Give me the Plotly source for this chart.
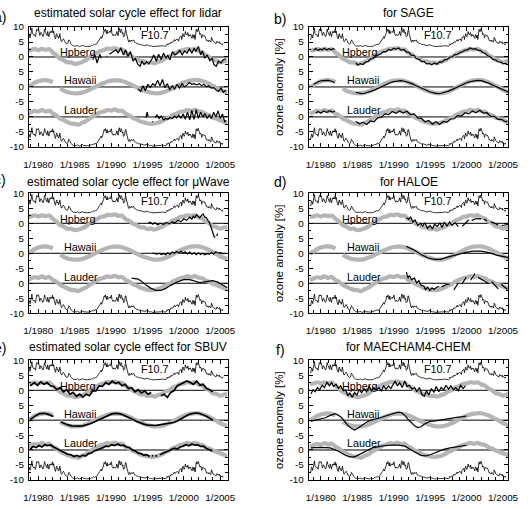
import numpy as np
import plotly.graph_objects as go

GAP = (None, None)

# ---------------- data ----------------
# F10.7 solar flux, monthly means (sfu), starting July 1978
F107_START = 1978 + 6.5 / 12
F107 = [137, 135, 180, 176, 150, 200,
        225, 240, 190, 180, 175, 182, 170, 160, 200, 232, 222, 232,
        232, 205, 172, 188, 202, 190, 182, 162, 170, 200, 232, 205,
        200, 180, 170, 210, 170, 162, 190, 210, 198, 212, 200, 230,
        196, 212, 170, 160, 140, 178, 190, 160, 168, 145, 156, 190,
        140, 124, 114, 122, 140, 142, 130, 125, 104, 100, 90, 92,
        96, 112, 132, 122, 116, 96, 90, 86, 76, 76, 75, 75,
        76, 73, 72, 75, 80, 73, 72, 70, 70, 72, 74, 76,
        74, 82, 75, 74, 70, 70, 70, 70, 70, 72, 72, 73,
        72, 73, 72, 80, 85, 80, 84, 90, 85, 95, 92, 90,
        97, 105, 110, 125, 130, 140, 150, 162, 145, 160, 172, 192,
        222, 212, 232, 200, 190, 222, 190, 200, 210, 212, 200, 212,
        230, 190, 180, 170, 182, 176, 170, 180, 182, 210, 175, 170,
        220, 240, 210, 200, 232, 220, 190, 200, 160, 172, 170, 222,
        222, 190, 150, 150, 120, 110, 130, 120, 115, 130, 120, 125,
        130, 130, 110, 110, 105, 100, 100, 100, 95, 90, 92, 88,
        90, 88, 85, 85, 80, 80, 78, 80, 76, 86, 82, 83,
        85, 80, 80, 75, 75, 78, 75, 70, 70, 75, 75, 75,
        72, 70, 70, 70, 70, 70, 72, 72, 70, 70, 75, 78,
        75, 72, 75, 75, 75, 75, 72, 80, 95, 85, 95, 100,
        93, 95, 110, 105, 115, 110, 115, 135, 135, 120, 130, 140,
        140, 140, 125, 120, 150, 165, 165, 170, 135, 165, 190, 170,
        160, 175, 210, 185, 185, 180, 200, 165, 180, 170, 180, 170,
        165, 145, 180, 180, 150, 175, 135, 165, 230, 210, 210, 235,
        225, 205, 180, 190, 180, 150, 175, 180, 175, 165, 170, 155,
        145, 125, 130, 125, 115, 130, 125, 120, 110, 155, 140, 115,
        115, 110, 110, 100, 100, 100, 120, 110, 105, 105, 115, 95,
        100, 95, 90, 85, 100]

# Reference (grey) solar-cycle regression curves, half-yearly from 1978.5 (%)
REF_START = 1978.5
REF_HPB = [2.2, 2.3, 2.7, 2.3, 2.7, 2.4, 2.6, 1.5, 0.6, -0.6, -1.1, -1.8, -1.8, -2.3,
           -2.1, -1.7, -1.1, -0.2, 0.7, 1.3, 2.0, 2.3, 2.8, 2.7, 3.0, 2.5, 2.5, 1.4,
           0.8, -0.1, -0.6, -1.3, -1.4, -1.9, -1.8, -2.1, -1.6, -1.2, -0.4, 0.1, 1.0,
           1.4, 2.1, 2.3, 2.7, 2.5, 2.7, 2.0, 1.6, 0.6, 0.0, -1.0, -1.2, -1.8, -1.4, -1.4]
REF_HAW = [-0.1, 0.6, 1.4, 1.9, 2.2, 2.3, 2.1, 1.6, None, -0.5, -1.2, -1.7, -2.0, -2.1,
           -2.1, -1.9, -1.5, -1.0, -0.4, 0.2, 0.8, 1.3, 1.8, 2.1, 2.2, 2.2, 2.0, 1.6,
           1.1, 0.5, -0.1, -0.7, -1.2, -1.6, -1.9, -2.1, -2.1, -1.9, -1.5, -1.0, -0.4,
           0.3, 0.9, 1.5, 1.9, 2.2, 2.3, 2.3, 2.0, 1.6, 1.0, 0.4, -0.3, -1.0, -1.5, -1.8]
REF_LAU = [1.0, 1.6, 2.0, 1.8, 2.3, 1.8, 2.1, 1.1, 0.5, -0.5, -1.1, -1.7, -2.2, -2.3,
           -2.6, -2.0, -1.5, -0.6, 0.1, 0.9, 1.5, 1.8, 2.3, 2.1, 2.5, 2.0, 2.1, 1.1,
           0.5, -0.3, -0.8, -1.5, -1.8, -2.2, -2.3, -2.2, -1.9, -1.4, -0.7, -0.2, 0.6,
           1.1, 1.7, 1.9, 2.4, 2.0, 2.4, 1.9, 1.7, 0.9, 0.5, -0.2, -0.6, -1.1, -1.6, -2.1]

# Instrument / model estimates: (decimal year, % anomaly)
LIDAR_HPB = [(1987.47, -0.9), (1987.78, 0.7), (1988.09, -2.0), (1988.44, 0.9), (1988.67, -0.4), GAP,
             (1989.40, 0.2), (1989.52, 0.2), GAP,
             (1989.78, 0.9), (1990.22, 1.8), (1990.67, 2.4), (1990.98, 1.3), (1991.33, 3.1), (1991.69, 0.7),
             (1992.00, 2.4), (1992.31, 0.2), (1992.67, 1.8), (1993.02, -1.4), (1993.33, -0.4), (1993.64, -2.3),
             (1994.00, -3.1), (1994.22, -1.4), (1994.53, -2.5), (1994.89, -1.6), (1995.20, -2.3), (1995.56, -0.9),
             (1995.87, 0.7), (1996.22, -1.4), (1996.53, 0.9), (1996.89, -0.9), (1997.20, 1.3), (1997.56, -0.4),
             (1997.78, 0.7), (1998.09, -0.9), (1998.44, 1.8), (1998.76, 0.7), (1999.11, 1.3), (1999.42, 2.2),
             (1999.78, 0.7), (2000.09, 2.0), (2000.44, 1.3), (2000.76, 2.7), (2001.11, 1.3), (2001.42, 2.9),
             (2001.64, 1.8), (2002.00, 3.5), (2002.31, 0.7), (2002.53, 2.0), (2002.89, -0.4), (2003.20, 0.7),
             (2003.56, -1.2), (2003.87, -0.4), (2004.13, -2.5), (2004.44, -3.1), (2004.76, -1.4), (2005.11, -2.0),
             (2005.42, -0.9), (2005.78, -0.6)]
LIDAR_HAW = [(1993.72, -0.7), (1994.08, -1.5), (1994.39, 0.4), (1994.70, -1.25), (1995.06, 0.9), (1995.38, -0.2),
             (1995.74, 1.1), (1996.05, 0.4), (1996.40, 2.2), (1996.72, 0.4), (1997.07, 2.5), (1997.38, -0.2),
             (1997.74, 1.1), (1998.05, -1.0), (1998.41, 0.4), (1998.72, -0.7), (1999.08, 0.9), (1999.40, -0.4),
             (1999.75, 1.1), (2000.06, 0.05), (2000.42, 0.6), (2000.73, 1.5), (2001.09, 0.9), (2001.40, 1.1),
             (2001.76, 0.7), (2002.12, 1.1), (2002.43, 0.4), (2002.74, 0.9), (2003.10, 0.05), (2003.41, 0.4),
             (2003.77, -0.4), (2004.08, -0.2), (2004.44, -1.0), (2004.75, -1.5), (2005.11, -0.4), (2005.42, -1.8),
             (2005.78, -1.0)]
LIDAR_LAU = [(1994.80, -0.3), (1994.95, 1.6), (1995.10, 0.2), GAP, (1995.65, -1.5), (1995.75, -1.7), GAP,
             (1996.05, -0.2), (1996.30, 0.6), (1996.60, -0.5), (1996.90, 0.3), (1997.20, -1.0), (1997.50, -0.5),
             (1997.80, -0.8), (1998.10, -0.2), (1998.40, -0.6), (1998.70, 0.3), (1999.00, -0.3), (1999.30, 0.6),
             (1999.60, -0.4), (1999.90, 1.0), (2000.20, -0.8), (2000.50, 1.6), (2000.80, -1.0), (2001.10, 2.2),
             (2001.40, -0.8), (2001.70, 2.4), (2002.00, -0.5), (2002.30, 1.6), (2002.60, 0.0), (2002.90, 1.1),
             (2003.20, -0.5), (2003.50, 0.6), (2003.80, -0.5), (2004.10, 1.6), (2004.40, 0.0), (2004.70, 2.0),
             (2005.00, -0.5), (2005.30, 1.0), (2005.60, -1.6), (2005.80, -1.2)]

SAGE_HPB = [(1979.0, 2.2), (1979.3, 2.8), (1979.6, 2.2), (1979.9, 2.7), (1980.2, 2.4), (1980.5, 2.9), (1980.8, 2.3),
            (1981.1, 2.8), (1981.4, 2.4), (1981.7, 2.8), (1981.9, 2.5), GAP,
            (1984.8, -2.0), (1985.1, -2.7), (1985.4, -2.2), (1985.8, -2.5), (1986.1, -1.7), (1986.5, -1.5),
            (1986.8, -0.7), (1987.2, -0.5), (1987.5, 0.3), (1987.9, 0.8), (1988.2, 1.0), (1988.6, 1.8),
            (1988.9, 1.7), (1989.3, 2.5), (1989.6, 2.2), (1990.0, 2.9), (1990.3, 2.6), (1990.7, 3.0),
            (1991.0, 2.3), (1991.4, 2.5), (1991.7, 1.7), (1992.1, 1.5), (1992.4, 0.6), (1992.8, 0.5),
            (1993.1, -0.5), (1993.5, -0.8), (1993.8, -1.5), (1994.2, -1.5), (1994.5, -2.3), (1994.9, -2.2),
            (1995.2, -2.6), (1995.6, -2.0), (1995.9, -2.4), (1996.3, -1.6), (1996.6, -1.7), (1997.0, -0.9),
            (1997.3, -0.9), (1997.7, 0.0), (1998.0, 0.0), (1998.4, 0.8), (1998.7, 0.9), (1999.1, 1.5),
            (1999.4, 1.7), (1999.8, 2.3), (2000.1, 2.4), (2000.5, 3.0), (2000.8, 2.6), (2001.2, 2.8),
            (2001.5, 2.3), (2001.9, 2.2), (2002.2, 1.5), (2002.6, 1.2), (2002.9, 0.4), (2003.3, 0.0),
            (2003.6, -0.8), (2004.0, -1.0), (2004.3, -1.6), (2004.7, -1.7), (2005.0, -2.2), (2005.4, -2.2),
            (2005.7, -2.6)]
SAGE_HAW = [(1979.0, 0.9), (1979.4, 1.5), (1979.8, 1.9), (1980.2, 2.1), (1980.6, 2.2), (1981.0, 2.2),
            (1981.4, 2.0), (1981.9, 1.5), GAP,
            (1984.8, -1.8), (1985.2, -2.1), (1985.6, -2.2), (1986.0, -2.1), (1986.5, -1.8), (1987.0, -1.4),
            (1987.5, -0.9), (1988.0, -0.3), (1988.5, 0.3), (1989.0, 0.9), (1989.5, 1.4), (1990.0, 1.8),
            (1990.5, 2.0), (1991.0, 2.1), (1991.5, 1.9), (1992.0, 1.6), (1992.5, 1.1), (1993.0, 0.5),
            (1993.5, -0.1), (1994.0, -0.7), (1994.5, -1.2), (1995.0, -1.7), (1995.5, -2.0), (1996.0, -2.2),
            (1996.5, -2.1), (1997.0, -1.8), (1997.5, -1.4), (1998.0, -0.9), (1998.5, -0.3), (1999.0, 0.3),
            (1999.5, 0.9), (2000.0, 1.4), (2000.5, 1.8), (2001.0, 2.1), (2001.5, 2.2), (2002.0, 2.1),
            (2002.5, 1.8), (2003.0, 1.3), (2003.5, 0.7), (2004.0, 0.1), (2004.5, -0.5), (2005.0, -1.1),
            (2005.5, -1.5), (2005.7, -1.7)]
SAGE_LAU = [(1979.3, 1.2), (1979.6, 1.8), (1980.0, 1.3), (1980.4, 2.0), (1980.8, 1.5), (1981.2, 2.1),
            (1981.6, 1.6), (1981.9, 1.9), GAP,
            (1984.8, -1.5), (1985.3, -2.3), (1985.8, -1.8), (1986.3, -2.5), (1986.8, -1.3), (1987.3, -1.6),
            (1987.8, -0.3), (1988.3, -0.2), (1988.8, 1.0), (1989.3, 0.8), (1989.8, 1.8), (1990.3, 1.2),
            (1990.8, 2.0), (1991.3, 1.3), (1991.8, 1.9), (1992.3, 0.8), (1992.8, 1.0), (1993.3, -0.3),
            (1993.8, -0.5), (1994.3, -1.7), (1994.8, -1.2), (1995.3, -2.4), (1995.8, -1.6), (1996.3, -2.5),
            (1996.8, -1.5), (1997.3, -1.8), (1997.8, -0.7), (1998.3, -0.6), (1998.8, 0.5), (1999.3, 0.3),
            (1999.8, 1.4), (2000.3, 1.0), (2000.8, 2.0), (2001.3, 1.4), (2001.8, 2.2), (2002.3, 1.3),
            (2002.8, 1.4), (2003.3, 0.2), (2003.8, 0.2), (2004.3, -0.8), (2004.8, -0.8), (2005.3, -1.6),
            (2005.6, -1.5)]

MW_HPB = [(1995.1, 0.0), (1995.4, 0.4), (1995.7, -0.3), (1996.0, 0.2), (1996.4, -0.5), (1996.8, 0.0),
          (1997.2, -0.3), (1997.6, 0.3), (1998.0, -0.2), (1998.4, 0.5), (1998.8, 0.2), (1999.2, 1.0),
          (1999.6, 0.5), (2000.0, 1.5), (2000.4, 1.0), (2000.8, 2.1), (2001.1, 1.4), (2001.3, 2.4),
          (2001.5, 1.8), (2001.74, 2.9), (2002.0, 2.2), (2002.18, 1.85), (2002.4, 2.6), (2002.63, 3.15),
          (2002.85, 2.2), (2003.08, 1.85), (2003.3, 1.0), (2003.52, 0.2), (2003.75, -1.4), (2003.97, -3.6),
          (2004.15, -4.4), (2004.33, -4.7), GAP, (2004.5, -4.2), (2004.65, -3.4)]
MW_HAW = [(1995.7, 0.1), (1996.0, 0.0), (1996.3, -0.3), (1996.6, 0.0), (1996.9, -0.4), (1997.2, -0.1),
          (1997.5, -0.5), (1997.8, 0.2), (1998.1, -0.3), (1998.4, 0.4), (1998.7, 0.0), (1999.0, 0.6),
          (1999.3, 0.1), (1999.6, 0.7), (1999.9, 0.0), (2000.2, 0.5), (2000.5, -0.2), (2000.8, 0.4),
          (2001.1, -0.3), (2001.4, 0.2), (2001.7, -0.5), (2002.0, 0.2), (2002.3, -0.4), (2002.6, 0.0),
          (2002.9, -0.5), (2003.2, -0.1), (2003.5, -0.3), (2003.8, 0.3), (2004.1, -0.2), (2004.4, 0.5),
          (2004.7, 0.1), (2005.0, 0.2), (2005.3, -0.1), (2005.7, 0.0)]
MW_LAU = [(1992.83, 1.7), (1993.72, 1.4), (1994.17, 0.7), (1994.84, -0.7), (1995.51, -1.7), (1996.18, -2.4),
          (1996.85, -2.4), (1997.52, -1.7), (1998.19, -0.7), (1999.08, 0.4), (1999.97, 1.2), (2000.64, 1.3),
          (2001.31, 0.9), (2001.98, 0.3), (2002.65, 0.4), (2003.32, 0.7), (2003.99, 0.9), (2004.66, 0.4),
          (2005.33, -0.7), (2006.0, -1.5)]

HALOE_HPB = [(1991.74, 1.9), (1992.06, 1.3), (1992.32, 2.2), (1992.63, 0.4), (1992.94, 1.1), (1993.30, -0.7),
             (1993.66, 0.0), (1993.97, -0.9), (1994.28, 0.2), (1994.63, -1.7), (1994.99, -0.7), (1995.30, -1.9),
             (1995.61, -0.3), (1995.97, -1.1), (1996.32, 0.2), (1996.63, -1.4), (1996.94, 0.4), (1997.30, -0.9),
             (1997.66, 0.4), (1997.97, -0.7), (1998.41, 0.2), (1998.86, -1.1), GAP,
             (1999.4, -1.0), (2000.3, 1.2), GAP, (2000.7, 1.0), (2001.3, 1.6), (2002.0, 1.5), GAP,
             (2002.4, 1.4), (2002.8, 0.8), GAP, (2003.3, 0.5), (2003.9, 0.0), (2004.3, -0.6), GAP,
             (2004.8, -0.8), (2005.3, -0.5), (2005.7, -0.3)]
HALOE_HAW = [(1991.74, 2.3), (1992.86, 1.0), (1993.74, -0.4), (1994.63, -1.5), (1995.52, -2.0), (1996.41, -2.0),
             (1997.52, -1.2), (1998.63, -0.4), (1999.74, 0.2), (2000.86, 0.7), (2001.97, 0.7), (2003.08, 0.2),
             (2004.19, -0.7), (2005.30, -1.2), (2005.74, -1.4)]
HALOE_LAU = [(1991.74, 3.7), (1991.95, 1.7), (1992.15, 2.6), (1992.45, 1.2), (1992.85, 1.7), (1993.15, 0.1),
             (1993.45, 0.9), (1993.75, -0.7), (1994.15, -1.0), (1994.35, -2.1), (1994.65, -1.3), (1994.95, -2.4),
             (1995.25, -1.5), (1995.55, -2.1), (1995.85, -1.4), (1996.25, -1.0), GAP,
             (1996.55, -1.2), (1997.15, -0.5), (1997.65, -0.3), GAP, (1998.25, -2.2), (1998.85, 0.0), GAP,
             (1999.35, -0.3), (1999.95, 2.0), GAP, (2000.55, 1.0), (2001.15, 3.2), GAP,
             (2001.55, 2.0), (2002.15, 1.0), (2002.65, 0.3), (2003.05, -0.2), GAP,
             (2003.45, 0.5), (2003.95, -1.0), (2004.35, -1.9), GAP, (2004.75, -0.4), (2005.25, -1.2), (2005.6, -2.0)]

SBUV_HPB = [(1978.90, 1.5), (1979.44, 2.6), (1979.88, 1.7), (1980.33, 2.8), (1980.78, 2.0), (1981.22, 2.6),
            (1981.67, 1.5), (1982.12, 1.3), (1982.56, 0.2), (1983.01, 0.9), (1983.46, -0.5), (1983.90, 0.2),
            (1984.35, -1.3), (1984.79, -0.7), (1985.24, -2.0), (1985.69, -1.3), (1986.13, -2.3), (1986.58, -1.3),
            (1987.03, -1.8), (1987.47, -0.2), (1987.92, -0.2), (1988.37, 1.5), (1988.81, 1.3), (1989.26, 2.6),
            (1989.71, 2.0), (1990.15, 3.1), (1990.60, 2.3), (1991.04, 2.7), (1991.49, 1.5), (1991.94, 2.0),
            (1992.38, 0.6), (1992.83, 0.9), (1993.28, -0.5), (1993.72, 0.2), (1994.17, -0.9), (1994.62, -0.2),
            (1995.06, -1.3), (1995.51, -0.7), GAP,
            (1996.85, -1.8), (1997.29, -1.3), (1997.74, -2.4), (1998.19, -0.7), (1998.63, -0.2), (1999.08, 1.5),
            (1999.53, 2.0), (1999.97, 2.6), (2000.42, 3.1), (2000.87, 2.6), (2001.31, 2.0), (2001.76, 3.1),
            (2002.21, 1.7), (2002.65, 2.0), (2003.10, 0.6), (2003.54, 0.2), (2003.99, -0.5)]
SBUV_HAW = [(1978.9, 0.2), (1979.3, 1.0), (1979.7, 1.6), (1980.2, 2.2), (1980.8, 2.3), (1981.3, 2.0), (1981.7, 1.6),
            (1982.1, 1.2), GAP,
            (1983.1, -0.6), (1983.6, -1.2), (1984.1, -1.6), (1984.6, -1.9), (1985.1, -2.0), (1985.6, -2.0),
            (1986.1, -1.9), (1986.6, -1.6), (1987.1, -1.2), (1987.6, -0.7), (1988.1, -0.1), (1988.6, 0.5),
            (1989.1, 1.1), (1989.6, 1.7), (1990.1, 2.1), (1990.6, 2.3), (1991.1, 2.2), (1991.6, 1.8),
            (1992.1, 1.3), (1992.6, 0.7), (1993.1, 0.1), (1993.6, -0.5), (1994.1, -1.0), (1994.6, -1.4),
            (1995.1, -1.7), (1995.6, -1.8), (1996.1, -1.8), (1996.6, -1.6), (1997.1, -1.4), (1997.6, -1.2),
            (1998.1, -1.1), (1998.6, -0.8), (1999.1, -0.3), (1999.6, 0.4), (2000.1, 1.2), (2000.6, 1.8),
            (2001.1, 2.2), (2001.6, 2.4), (2002.1, 2.3), (2002.6, 1.9), (2003.1, 1.3), (2003.6, 0.6),
            (2004.0, -0.1)]
SBUV_LAU = [(1978.9, 0.3), (1979.3, 1.2), (1979.7, 0.8), (1980.1, 1.5), (1980.5, 1.0), (1980.9, 1.8), (1981.3, 1.5),
            (1981.7, 1.7), (1982.1, 1.0), (1982.5, 0.5), (1982.9, 0.0), (1983.3, -0.5), (1983.7, -1.0),
            (1984.1, -1.5), (1984.5, -1.6), (1984.9, -2.2), (1985.3, -1.8), (1985.7, -2.3), (1986.1, -1.7),
            (1986.5, -2.0), (1986.9, -1.2), (1987.3, -1.0), (1987.7, -0.3), (1988.1, 0.0), (1988.5, 0.5),
            (1988.9, 0.8), (1989.3, 1.3), (1989.7, 1.2), (1990.1, 1.8), (1990.5, 1.5), (1990.9, 2.0),
            (1991.3, 1.5), (1991.7, 1.6), (1992.1, 1.0), (1992.5, 0.8), (1992.9, 0.0), (1993.3, -0.3),
            (1993.7, -1.0), (1994.1, -1.2), (1994.5, -1.8), (1994.9, -1.6), (1995.3, -2.2), GAP,
            (1995.6, -1.9), (1995.8, -2.0), GAP, (1996.1, -2.1), (1996.3, -1.9), GAP,
            (1996.7, -1.6), (1997.1, -1.2), (1997.5, -0.6), (1997.9, -0.2), (1998.3, 0.1), (1998.7, 0.6),
            (1999.1, 0.3), (1999.5, 1.0), (1999.9, 1.3), (2000.3, 1.8), (2000.7, 1.4), (2001.1, 2.0),
            (2001.5, 1.6), (2001.9, 1.8), (2002.3, 1.2), (2002.7, 1.3), (2003.1, 0.5), (2003.5, 0.2),
            (2003.9, -0.3)]

MAE_HPB = [(1978.63, -1.26), (1978.94, 0.16), (1979.21, -0.49), (1979.52, 0.93), (1979.83, 0.16), (1980.19, 1.69),
           (1980.50, 0.93), (1980.86, 2.79), (1981.17, 1.48), (1981.48, 2.57), (1981.74, 1.26), (1982.10, 2.02),
           (1982.41, 0.60), (1982.72, 1.48), (1983.08, -0.16), (1983.39, 0.16), (1983.70, -1.80), (1983.97, -0.93),
           (1984.32, -2.35), (1984.63, -0.71), (1984.94, -1.58), (1985.30, 0.38), (1985.61, -0.93), (1985.92, 0.60),
           (1986.28, -0.49), (1986.63, 1.48), (1986.94, -0.16), (1987.26, 0.93), (1987.61, 0.16), (1987.97, 0.93),
           (1988.28, -0.16), (1988.63, 1.48), (1988.94, 0.38), (1989.30, 1.48), (1989.61, 0.60), (1989.92, 2.02),
           (1990.19, 3.11), (1990.50, 1.48), (1990.81, 2.57), (1991.17, 0.93), (1991.52, 3.11), (1991.83, 1.26),
           (1992.14, 1.69), (1992.50, 0.38), (1992.86, 0.93), (1993.17, -0.49), (1993.52, 0.93), (1993.83, -1.26),
           (1994.19, -2.02), (1994.50, -0.16), (1994.81, -1.58), (1995.17, 0.60), (1995.52, -0.71), (1995.83, 1.26),
           (1996.19, -0.49), (1996.50, 0.93), (1996.86, 0.16), (1997.17, 1.69), (1997.52, 0.38), (1997.83, 1.48),
           (1998.19, 0.16), (1998.50, 0.93), (1998.86, -0.16), (1999.17, 1.69), (1999.52, 0.60), (1999.83, 1.48)]
MAE_HAW = [(1978.63, -0.3), (1979.30, 0.0), (1979.97, 0.3), (1980.63, 0.8), (1981.30, 1.6), (1981.97, 2.2),
           (1982.41, 1.6), (1982.86, 0.8), (1983.30, -0.5), (1983.74, -1.9), (1984.19, -2.7), (1984.63, -3.3),
           (1985.08, -2.7), (1985.52, -1.9), (1986.19, -0.8), (1986.86, 0.0), (1987.52, 0.3), (1988.19, 0.8),
           (1988.86, 1.4), (1989.52, 1.8), (1990.19, 2.2), (1990.63, 2.7), (1991.08, 2.5), (1991.52, 1.6),
           (1991.97, 0.3), (1992.41, -0.8), (1992.86, -1.9), (1993.30, -2.5), (1993.74, -2.2), (1994.19, -1.4),
           (1994.86, -0.5), (1995.52, -0.3), (1996.19, 0.0), (1996.86, 0.3), (1997.52, 0.5), (1998.19, 0.8),
           (1998.86, 1.0), (1999.52, 1.2), (1999.97, 1.4)]
MAE_LAU = [(1978.63, 0.7), (1979.97, 0.9), (1981.30, 0.7), (1982.41, -0.4), (1983.30, -1.7), (1983.97, -2.3),
           (1984.63, -2.3), (1985.30, -1.5), (1986.19, -0.2), (1987.08, 0.7), (1987.97, 1.1), (1988.86, 1.5),
           (1989.74, 1.6), (1990.63, 1.6), (1991.52, 1.3), (1992.41, 0.2), (1993.08, -0.9), (1993.74, -1.8),
           (1994.41, -2.0), (1995.08, -1.5), (1995.97, -0.6), (1996.86, 0.2), (1997.74, 0.7), (1998.63, 1.1),
           (1999.52, 1.5), (1999.97, 1.6)]

TITLES = ["estimated solar cycle effect for lidar", "for SAGE",
          "estimated solar cycle effect for \u03bcWave", "for HALOE",
          "estimated solar cycle effect for SBUV", "for MAECHAM4-CHEM"]
PANEL_LABELS = ["a)", "b)", "c)", "d)", "e)", "f)"]
STATIONS = ["Hpberg", "Hawaii", "Lauder"]
OFFSETS = [10, 0, -10]
BLACK = [(LIDAR_HPB, LIDAR_HAW, LIDAR_LAU), (SAGE_HPB, SAGE_HAW, SAGE_LAU),
         (MW_HPB, MW_HAW, MW_LAU), (HALOE_HPB, HALOE_HAW, HALOE_LAU),
         (SBUV_HPB, SBUV_HAW, SBUV_LAU), (MAE_HPB, MAE_HAW, MAE_LAU)]
XTICK_YEARS = [1980, 1985, 1990, 1995, 2000, 2005]
XTICK_TEXT = ["1/%d" % y for y in XTICK_YEARS]
YTICK_VALS = [-20, -15, -10, -5, 0, 5, 10, 15, 20]
YTICK_TEXT = ["-10", "-5", "0", "-5", "0", "5", "0", "5", "10"]

# ---------------- figure ----------------
W, H = 531, 509
FONT = "Liberation Sans, Arial, Helvetica, sans-serif"
GREY = "#b5b5b5"

f_t = F107_START + np.arange(len(F107)) / 12.0
f_arr = np.array(F107, dtype=float)
f_top = 13.5 + (f_arr - 70.0) * 0.0359
f_bot = f_top - 33.2
ref_t = REF_START + 0.5 * np.arange(len(REF_HPB))
REFS = [REF_HPB, REF_HAW, REF_LAU]

COL_X = [(24.5, 229.0), (312.5, 518.0)]
ROW_Y = [(21.5, 144.0), (191.5, 314.0), (362.3, 484.3)]
XR = [[1978.7, 2006.0], [1978.33, 2005.73]]


def split(pairs, off):
    t = [p[0] for p in pairs]
    v = [None if p[1] is None else p[1] + off for p in pairs]
    return t, v


fig = go.Figure()
layout = dict(width=W, height=H, margin=dict(l=0, r=0, t=0, b=0),
              paper_bgcolor="white", plot_bgcolor="white", showlegend=False,
              font=dict(family=FONT, color="black"))
shapes, annotations = [], []

for i in range(6):
    row, col = i // 2, i % 2
    n = i + 1
    xa, ya = ("x%d" % n if n > 1 else "x"), ("y%d" % n if n > 1 else "y")
    x0, x1 = COL_X[col]
    yt, yb = ROW_Y[row]
    layout["xaxis%d" % n if n > 1 else "xaxis"] = dict(
        domain=[x0 / W, x1 / W], range=XR[col], anchor=ya,
        tickmode="array", tickvals=XTICK_YEARS, ticktext=XTICK_TEXT,
        ticks="inside", ticklen=4, tickcolor="black", tickwidth=1,
        minor=dict(tickmode="linear", tick0=1980, dtick=1, ticks="inside", ticklen=3,
                   tickcolor="black", tickwidth=1, showgrid=False),
        showline=True, linecolor="black", linewidth=1, mirror="allticks",
        showgrid=False, zeroline=False, tickfont=dict(size=9.8, family=FONT),
        ticklabelstandoff=8)
    layout["yaxis%d" % n if n > 1 else "yaxis"] = dict(
        domain=[1 - yb / H, 1 - yt / H], range=[-20, 20], anchor=xa,
        tickmode="array", tickvals=YTICK_VALS, ticktext=YTICK_TEXT,
        ticks="inside", ticklen=4, tickcolor="black", tickwidth=1,
        minor=dict(tickmode="linear", tick0=0, dtick=2.5, ticks="inside", ticklen=2.5,
                   tickcolor="black", tickwidth=1, showgrid=False),
        showline=True, linecolor="black", linewidth=1, mirror="allticks",
        showgrid=False, zeroline=False, tickfont=dict(size=9.8, family=FONT),
        ticklabelstandoff=2)

    # grey reference curves
    for ref, off in zip(REFS, OFFSETS):
        fig.add_trace(go.Scatter(x=ref_t, y=[None if v is None else v + off for v in ref],
                                 mode="lines", line=dict(color=GREY, width=4.2, shape="spline", smoothing=1.0),
                                 connectgaps=False, xaxis=xa, yaxis=ya, hoverinfo="skip"))
    # F10.7 (top and bottom copies)
    for fy in (f_top, f_bot):
        fig.add_trace(go.Scatter(x=f_t, y=fy, mode="lines", line=dict(color="black", width=0.8),
                                 xaxis=xa, yaxis=ya, hoverinfo="skip"))
    # black estimates
    lw = 1.7 if i == 4 else 1.2
    for pairs, off in zip(BLACK[i], OFFSETS):
        t, v = split(pairs, off)
        fig.add_trace(go.Scatter(x=t, y=v, mode="lines", line=dict(color="black", width=lw),
                                 connectgaps=False, xaxis=xa, yaxis=ya, hoverinfo="skip"))
    # zero lines
    for off in OFFSETS:
        shapes.append(dict(type="line", xref="%s domain" % xa, yref=ya, x0=0, x1=1, y0=off, y1=off,
                           line=dict(color="black", width=1), layer="below"))
    # in-panel labels
    annotations.append(dict(x=1996.1, y=17.3, xref=xa, yref=ya, text="F10.7", showarrow=False,
                            font=dict(size=10.8, family=FONT)))
    for name, xv, yv in zip(STATIONS, [1985.35, 1985.75, 1985.9], [11.6, 2.2, -7.8]):
        annotations.append(dict(x=xv, y=yv, xref=xa, yref=ya, text=name, showarrow=False,
                                font=dict(size=10.8, family=FONT)))
    # titles
    ty = {0: 7.5, 1: 180.0, 2: 349.0}[row]
    annotations.append(dict(x=(x0 + x1) / 2 / W, y=1 - ty / H, xref="paper", yref="paper",
                            text=TITLES[i], showarrow=False, font=dict(size=12, family=FONT),
                            xanchor="center", yanchor="middle"))
    # panel letters (left ones are cut by the page edge, as in the original)
    ly = {0: 11.0, 1: 178.0, 2: 349.5}[row]
    if col == 0:
        annotations.append(dict(x=3.0 / W, y=1 - ly / H, xref="paper", yref="paper", text=PANEL_LABELS[i],
                                showarrow=False, xanchor="right", yanchor="middle",
                                font=dict(size=14, family=FONT)))
    else:
        annotations.append(dict(x=283.0 / W, y=1 - (ly + 2) / H, xref="paper", yref="paper",
                                text=PANEL_LABELS[i], showarrow=False, xanchor="center", yanchor="middle",
                                font=dict(size=14, family=FONT)))
        annotations.append(dict(x=282.0 / W, y=1 - (yt + yb) / 2 / H, xref="paper", yref="paper",
                                text="ozone anomaly [%]", showarrow=False, textangle=-90,
                                xanchor="center", yanchor="middle", font=dict(size=11.5, family=FONT)))

layout["shapes"] = shapes
layout["annotations"] = annotations
fig.update_layout(**layout)
fig.write_html("out.html")
